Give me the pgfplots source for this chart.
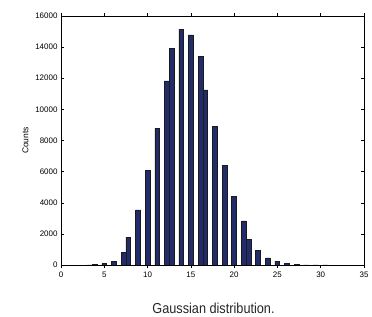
\documentclass[border=0pt]{standalone}
\usepackage{fontspec}
\setmainfont{Liberation Sans}
\usepackage{graphicx}
\usepackage{pgfplots}
\pgfplotsset{compat=1.18}
\definecolor{barfill}{HTML}{232C6B}
\definecolor{baredge}{HTML}{1A1A1A}
\begin{document}
\begin{tikzpicture}
\useasboundingbox (0,0) rectangle (372bp,317bp);
\begin{axis}[
  at={(61bp,52bp)}, anchor=south west,
  scale only axis, width=303bp, height=249bp,
  xmin=0, xmax=35, ymin=0, ymax=16000,
  xtick={0,5,...,35}, ytick={0,2000,...,16000},
  scaled y ticks=false,
  /pgf/number format/assume math mode=true,
  /pgf/number format/set thousands separator={},
  tick label style={font=\fontsize{8}{9.6}\selectfont},
  tick align=inside, major tick length=3bp,
  tick style={black, line width=0.5pt},
  axis line style={line width=0.8pt},
  ylabel={Counts},
  ylabel style={font=\fontsize{8.5}{10}\selectfont},
  ybar, bar width=0.55,
]
\addplot[fill=barfill, draw=baredge, line width=0.5pt] coordinates {
(3.335,10) (3.89,20) (5.005,85) (6.115,250) (7.225,790) (7.78,1780)
(8.89,3550) (10.0,6100) (11.11,8800) (12.22,11830) (12.775,13900)
(13.885,15150) (14.995,14780) (16.105,13420) (16.66,11250) (17.77,8920)
(18.88,6410) (19.99,4420) (21.1,2830) (21.655,1650) (22.765,920)
(23.875,460) (24.985,230) (26.095,95) (27.205,40) (28.315,15)
(29.425,6) (30.535,2)
};
\end{axis}
\node[anchor=base, text=black!85] at (213.5bp,3.7bp) {\scalebox{0.88}[1]{\fontsize{14.5}{17}\selectfont Gaussian distribution.}};
\end{tikzpicture}
\end{document}
